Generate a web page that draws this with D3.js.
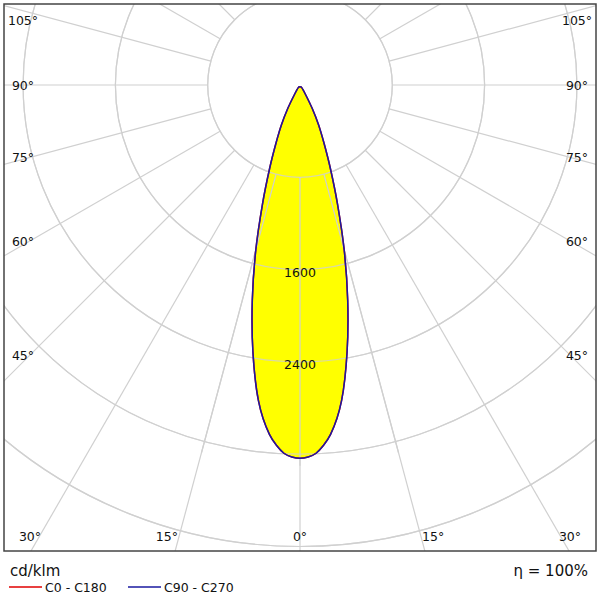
<!DOCTYPE html>
<html><head><meta charset="utf-8">
<script src="https://cdn.jsdelivr.net/npm/d3@7"></script>
<style>body{margin:0;background:#fff}</style></head>
<body><svg id="c" width="600" height="600"></svg>
<script>
const angles = [0,2.5,5,7.5,10,12.5,15,17.5,20,22.5,25,27.5,30,32.5];
const c0c180 = [3235,3195,3040,2760,2350,1910,1480,1080,770,540,380,230,100,25];
const c90c270 = [3235,3195,3040,2760,2350,1910,1480,1080,770,540,380,230,100,25];
const ringValues = [800,1600,2400,3200,4000,4800,5600,6400];
const ringLabels = ["1600","2400"];
const angleTicks = [0,15,30,45,60,75,90,105];

const svg = d3.select("#c");
const cx=300, cy=85;
const L=4,R=596,T=4,B=551;
const r = d3.scaleLinear().domain([0,800]).range([0,92.3]);
const pt=(deg,v)=>{const a=deg*Math.PI/180;return [cx-r(v)*Math.sin(a), cy+r(v)*Math.cos(a)];};
const ptR=(deg,v)=>{const a=deg*Math.PI/180;return [cx+r(v)*Math.sin(a), cy+r(v)*Math.cos(a)];};

svg.append("clipPath").attr("id","clip").append("rect").attr("x",L).attr("y",T).attr("width",R-L).attr("height",B-T);
const g=svg.append("g").attr("clip-path","url(#clip)");
const grid="#d0d0d0";
ringValues.forEach(v=>g.append("circle").attr("cx",cx).attr("cy",cy).attr("r",r(v)).attr("fill","none").attr("stroke",grid).attr("stroke-width",1.2));
for(let a=-180;a<180;a+=15){
  const p1=pt(a,800),p2=pt(a,8000);
  g.append("line").attr("x1",p1[0]).attr("y1",p1[1]).attr("x2",p2[0]).attr("y2",p2[1]).attr("stroke",grid).attr("stroke-width",1.2);
}
function curvePts(vals){
  const pts=[];
  for(let i=angles.length-1;i>=0;i--) pts.push(ptR(angles[i],vals[i]));
  for(let i=1;i<angles.length;i++) pts.push(pt(angles[i],vals[i]));
  pts.push([cx,cy+2]);
  return pts;
}
const line=d3.line().curve(d3.curveCardinalClosed.tension(0.2));
g.append("path").attr("d",line(curvePts(c90c270))).attr("fill","#ffff00").attr("stroke","none");
ringValues.forEach(v=>g.append("circle").attr("cx",cx).attr("cy",cy).attr("r",r(v)).attr("fill","none").attr("stroke",grid).attr("stroke-width",1.2).attr("opacity",0.8));
[-15,0,15].forEach(a=>{const p1=pt(a,800),p2=pt(a,3300);g.append("line").attr("x1",p1[0]).attr("y1",p1[1]).attr("x2",p2[0]).attr("y2",p2[1]).attr("stroke",grid).attr("stroke-width",1.2);});
g.append("path").attr("d",line(curvePts(c0c180))).attr("fill","none").attr("stroke","#e00000").attr("stroke-width",1.5);
g.append("path").attr("d",line(curvePts(c90c270))).attr("fill","none").attr("stroke","#1a1aa0").attr("stroke-width",1.5);

ringLabels.forEach(s=>{const v=+s;g.append("text").attr("x",cx).attr("y",cy+r(v)+7).attr("text-anchor","middle").attr("font-family","DejaVu Sans").attr("font-size",12.5).attr("fill","#111").text(s);});

svg.append("rect").attr("x",L).attr("y",T).attr("width",R-L).attr("height",B-T).attr("fill","none").attr("stroke","#444").attr("stroke-width",1.5);

angleTicks.forEach(a=>{
  const rad=a*Math.PI/180, s=Math.sin(rad), c=Math.cos(rad);
  let x,y;
  if(a<=30){ y=541; const rr=(537-cy)/c; x=rr*s; if(a===15) x+=12; if(a===30) x=270; }
  else { x=277; const rr=270/s; y=cy+rr*c+5; if(a===105) y=25; }
  [-1,1].forEach(sg=>{
    if(a===0 && sg===1) return;
    svg.append("text").attr("x",cx+sg*x).attr("y",y).attr("text-anchor","middle")
      .attr("font-family","DejaVu Sans").attr("font-size",12.5).attr("fill","#111").text(a+"°");
  });
});

svg.append("text").attr("x",10).attr("y",576).attr("font-family","DejaVu Sans").attr("font-size",15).attr("fill","#111").text("cd/klm");
svg.append("text").attr("x",588).attr("y",576).attr("text-anchor","end").attr("font-family","DejaVu Sans").attr("font-size",15).attr("fill","#111").text("η = 100%");
const leg=[["C0 - C180","#e00000",9],["C90 - C270","#1a1aa0",128]];
leg.forEach(([t,col,x])=>{
  svg.append("line").attr("x1",x).attr("x2",x+33).attr("y1",587).attr("y2",587).attr("stroke",col).attr("stroke-width",1.5);
  svg.append("text").attr("x",x+36).attr("y",592).attr("font-family","DejaVu Sans").attr("font-size",12.5).attr("fill","#111").text(t);
});
</script></body></html>
